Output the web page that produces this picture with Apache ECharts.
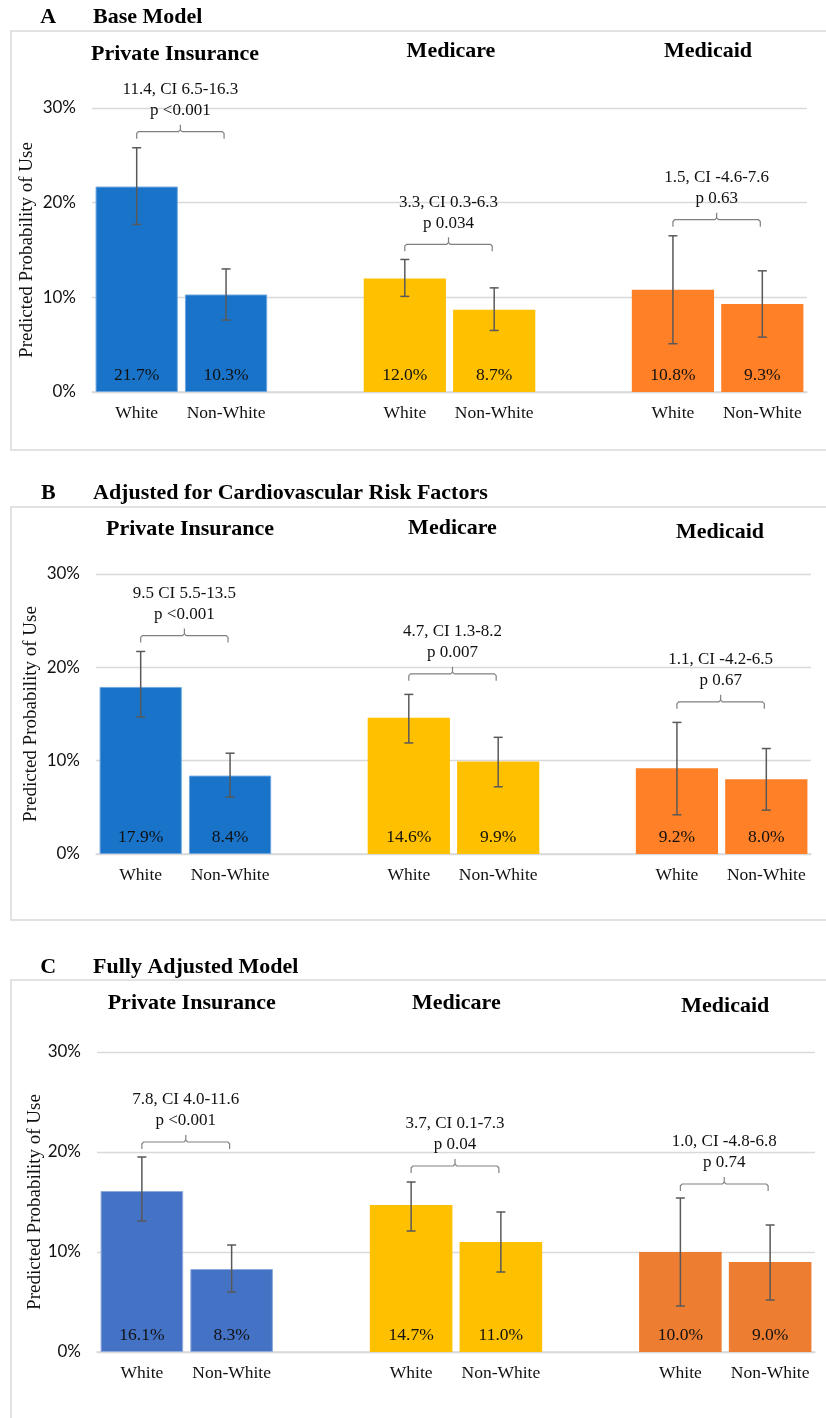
<!DOCTYPE html>
<html>
<head>
<meta charset="utf-8">
<script src="https://cdn.jsdelivr.net/npm/echarts@6/dist/echarts.min.js"></script>
<style>
  html, body { margin: 0; padding: 0; background: #ffffff; }
  #chart { width: 826px; height: 1418px; }
</style>
</head>
<body>
<div id="chart"></div>
<script>
// ---- Data ----------------------------------------------------------------
const insurers = ['Private Insurance', 'Medicare', 'Medicaid'];
const races = ['White', 'Non-White'];
const yTickValues = [0, 10, 20, 30];

// A – Base Model (predicted probability of use, %, and 95% CI ends)
const baseValues = [21.7, 10.3, 12.0, 8.7, 10.8, 9.3];
const baseLower  = [17.7, 7.6, 10.1, 6.5, 5.1, 5.8];
const baseUpper  = [25.8, 13.0, 14.0, 11.0, 16.5, 12.8];
const baseDiff   = ['11.4, CI 6.5-16.3', '3.3, CI 0.3-6.3', '1.5, CI -4.6-7.6'];
const baseP      = ['p <0.001', 'p 0.034', 'p 0.63'];
const baseBracket = [27.5, 15.6, 18.2];

// B – Adjusted for Cardiovascular Risk Factors
const cvValues = [17.9, 8.4, 14.6, 9.9, 9.2, 8.0];
const cvLower  = [14.7, 6.1, 11.9, 7.2, 4.2, 4.7];
const cvUpper  = [21.7, 10.8, 17.1, 12.5, 14.1, 11.3];
const cvDiff   = ['9.5 CI 5.5-13.5', '4.7, CI 1.3-8.2', '1.1, CI -4.2-6.5'];
const cvP      = ['p <0.001', 'p 0.007', 'p 0.67'];
const cvBracket = [23.4, 19.3, 16.3];

// C – Fully Adjusted Model
const fullValues = [16.1, 8.3, 14.7, 11.0, 10.0, 9.0];
const fullLower  = [13.1, 6.0, 12.1, 8.0, 4.6, 5.2];
const fullUpper  = [19.5, 10.7, 17.0, 14.0, 15.4, 12.7];
const fullDiff   = ['7.8, CI 4.0-11.6', '3.7, CI 0.1-7.3', '1.0, CI -4.8-6.8'];
const fullP      = ['p <0.001', 'p 0.04', 'p 0.74'];
const fullBracket = [21.0, 18.6, 16.8];

// ---- Panel layout ----------------------------------------------------------
const SERIF = '"Liberation Serif", "Times New Roman", serif';
const SANS = 'Lato, "Liberation Sans", sans-serif';
const INK = '#111111';

const panels = [
  {
    letter: 'A', title: 'Base Model', titleY: 17,
    values: baseValues, lower: baseLower, upper: baseUpper,
    diff: baseDiff, p: baseP, bracket: baseBracket,
    colors: ['#1873C9', '#FFC000', '#FF8026'],
    borders: ['#6FA6DE', null, null],
    grid: { left: 92, top: 108, width: 715, height: 284 },
    nameGap: 55,
    box: { top: 31, bottom: 450 },
    heads: [[175, 54], [451, 51.5], [708, 51.2]]
  },
  {
    letter: 'B', title: 'Adjusted for Cardiovascular Risk Factors', titleY: 493.7,
    values: cvValues, lower: cvLower, upper: cvUpper,
    diff: cvDiff, p: cvP, bracket: cvBracket,
    colors: ['#1873C9', '#FFC000', '#FF8026'],
    borders: ['#6FA6DE', null, null],
    grid: { left: 96, top: 574, width: 715, height: 280 },
    nameGap: 55,
    box: { top: 507, bottom: 920 },
    heads: [[190, 529.7], [452.5, 528.7], [720, 532.2]]
  },
  {
    letter: 'C', title: 'Fully Adjusted Model', titleY: 967.2,
    values: fullValues, lower: fullLower, upper: fullUpper,
    diff: fullDiff, p: fullP, bracket: fullBracket,
    colors: ['#4472C4', '#FFC000', '#ED7D31'],
    borders: ['#8FAADC', null, null],
    grid: { left: 97, top: 1052, width: 718, height: 300 },
    nameGap: 52,
    box: { top: 980, bottom: 1500 },
    heads: [[191.7, 1003.3], [456.3, 1003.3], [725.3, 1006.2]]
  }
];

// Category slots: two races per insurer, with an empty slot between insurers
const slotLabels = [];
insurers.forEach((ins, g) => {
  races.forEach(r => slotLabels.push(r));
  if (g < insurers.length - 1) slotLabels.push('');
});
const slotOf = (g, r) => g * (races.length + 1) + r;

// ---- Render helpers ---------------------------------------------------------
function errorBarRenderer(params, api) {
  const x = api.value(0);
  const lo = api.coord([x, api.value(1)]);
  const hi = api.coord([x, api.value(2)]);
  const cap = 4.5;
  const style = { stroke: '#595959', lineWidth: 1.5, fill: null };
  return {
    type: 'group',
    children: [
      { type: 'line', shape: { x1: lo[0], y1: lo[1], x2: hi[0], y2: hi[1] }, style },
      { type: 'line', shape: { x1: lo[0] - cap, y1: lo[1], x2: lo[0] + cap, y2: lo[1] }, style },
      { type: 'line', shape: { x1: hi[0] - cap, y1: hi[1], x2: hi[0] + cap, y2: hi[1] }, style }
    ]
  };
}

function bracketRenderer(panel) {
  return function (params, api) {
    const a = api.coord([api.value(0), api.value(2)]);
    const b = api.coord([api.value(1), api.value(2)]);
    const x1 = a[0], x2 = b[0] - 2, y = a[1];
    const xm = (x1 + x2) / 2;
    const r = 1.8, leg = 7;
    const style = { stroke: '#808080', lineWidth: 1.2, fill: null };
    const txt = (text, ty) => ({
      type: 'text', x: xm, y: ty,
      style: {
        text: text, font: '17px ' + SERIF, fill: INK,
        align: 'center', verticalAlign: 'middle',
        textAlign: 'center', textVerticalAlign: 'middle'
      }
    });
    const i = params.dataIndex;
    return {
      type: 'group',
      children: [
        { type: 'polyline', shape: { points: [[x1, y + leg], [x1, y + r], [x1 + r, y], [xm - r, y], [xm, y - r], [xm, y - leg]] }, style },
        { type: 'polyline', shape: { points: [[xm, y - r], [xm + r, y], [x2 - r, y], [x2, y + r], [x2, y + leg]] }, style },
        txt(panel.diff[i], y - 42),
        txt(panel.p[i], y - 21)
      ]
    };
  };
}

// ---- Build option -----------------------------------------------------------
const grids = [], xAxes = [], yAxes = [], series = [], graphics = [];

panels.forEach((panel, pi) => {
  grids.push(Object.assign({ containLabel: false }, panel.grid));

  xAxes.push({
    type: 'category', gridIndex: pi, data: slotLabels,
    axisLine: { lineStyle: { color: '#D9D9D9', width: 1.5 } },
    axisTick: { show: false },
    axisLabel: { interval: 0, margin: 12, fontFamily: SERIF, fontSize: 17.5, color: INK }
  });

  yAxes.push({
    type: 'value', gridIndex: pi,
    min: yTickValues[0], max: yTickValues[yTickValues.length - 1],
    interval: yTickValues[1] - yTickValues[0],
    name: 'Predicted Probability of Use', nameLocation: 'middle',
    nameGap: panel.nameGap, nameMoveOverlap: false,
    nameTextStyle: { fontFamily: SERIF, fontSize: 19, color: INK },
    axisLine: { show: false }, axisTick: { show: false },
    axisLabel: { formatter: '{value}%', margin: 16, fontFamily: SANS, fontSize: 17, color: INK },
    splitLine: { lineStyle: { color: '#D9D9D9', width: 1.3 } }
  });

  const barData = slotLabels.map(() => '-');
  const errData = [];
  insurers.forEach((ins, g) => {
    races.forEach((race, r) => {
      const k = g * races.length + r;
      const item = { value: panel.values[k], itemStyle: { color: panel.colors[g] } };
      if (panel.borders[g]) {
        item.itemStyle.borderColor = panel.borders[g];
        item.itemStyle.borderWidth = 1;
      }
      barData[slotOf(g, r)] = item;
      errData.push([slotOf(g, r), panel.lower[k], panel.upper[k]]);
    });
  });

  series.push({
    type: 'bar', xAxisIndex: pi, yAxisIndex: pi, data: barData,
    barWidth: '92%', animation: false,
    label: {
      show: true, position: 'insideBottom', distance: 8,
      formatter: p => p.value.toFixed(1) + '%',
      fontFamily: SERIF, fontSize: 17.5, color: INK
    }
  });

  series.push({
    type: 'custom', xAxisIndex: pi, yAxisIndex: pi, data: errData,
    encode: { x: 0, y: [1, 2] }, renderItem: errorBarRenderer,
    animation: false, z: 5
  });

  series.push({
    type: 'custom', xAxisIndex: pi, yAxisIndex: pi,
    data: insurers.map((ins, g) => [slotOf(g, 0), slotOf(g, 1), panel.bracket[g]]),
    encode: { x: [0, 1], y: 2 }, renderItem: bracketRenderer(panel),
    animation: false, clip: false, z: 6
  });

  // panel frame
  graphics.push({
    type: 'rect', silent: true,
    shape: { x: 11, y: panel.box.top, width: 900, height: panel.box.bottom - panel.box.top },
    style: { fill: null, stroke: '#D9D9D9', lineWidth: 1.5 }
  });
  // panel letter and title
  graphics.push({
    type: 'text', x: 48.3, y: panel.titleY,
    style: { text: panel.letter, font: 'bold 22px ' + SERIF, fill: '#000',
      align: 'center', verticalAlign: 'middle', textAlign: 'center', textVerticalAlign: 'middle' }
  });
  graphics.push({
    type: 'text', x: 93, y: panel.titleY,
    style: { text: panel.title, font: 'bold 22px ' + SERIF, fill: '#000',
      align: 'left', verticalAlign: 'middle', textAlign: 'left', textVerticalAlign: 'middle' }
  });
  // insurer headings
  insurers.forEach((ins, g) => {
    graphics.push({
      type: 'text', x: panel.heads[g][0], y: panel.heads[g][1],
      style: { text: ins, font: 'bold 22px ' + SERIF, fill: '#000',
        align: 'center', verticalAlign: 'middle', textAlign: 'center', textVerticalAlign: 'middle' }
    });
  });
});

const chart = echarts.init(document.getElementById('chart'), null, { renderer: 'canvas' });
chart.setOption({
  backgroundColor: '#ffffff',
  animation: false,
  grid: grids,
  xAxis: xAxes,
  yAxis: yAxes,
  series: series,
  graphic: { elements: graphics }
});
</script>
</body>
</html>
